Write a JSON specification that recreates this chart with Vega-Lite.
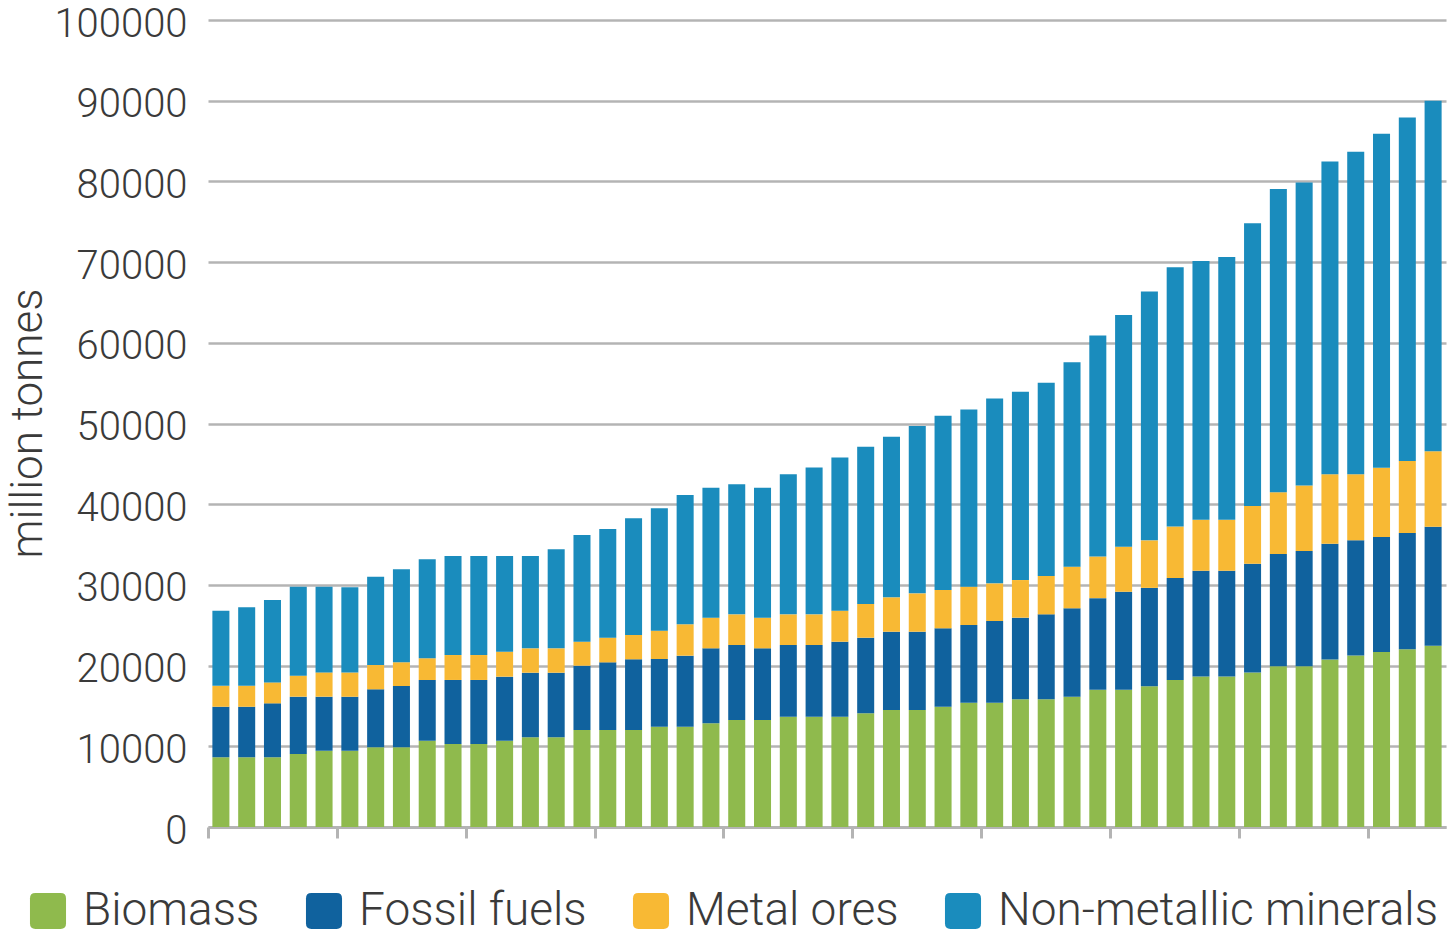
{
  "$schema": "https://vega.github.io/schema/vega-lite/v6.json",
  "width": 1238,
  "height": 807,
  "autosize": {"type": "none"},
  "padding": {"left": 208, "top": 20, "right": 3, "bottom": 103},
  "background": "white",
  "config": {"view": {"stroke": null}, "font": "Roboto"},
  "data": {
    "values": [
      {"year": 1970, "type": "Biomass", "value": 8630}, {"year": 1970, "type": "Fossil fuels", "value": 6270}, {"year": 1970, "type": "Metal ores", "value": 2600}, {"year": 1970, "type": "Non-metallic minerals", "value": 9300},
      {"year": 1971, "type": "Biomass", "value": 8630}, {"year": 1971, "type": "Fossil fuels", "value": 6270}, {"year": 1971, "type": "Metal ores", "value": 2600}, {"year": 1971, "type": "Non-metallic minerals", "value": 9720},
      {"year": 1972, "type": "Biomass", "value": 8630}, {"year": 1972, "type": "Fossil fuels", "value": 6690}, {"year": 1972, "type": "Metal ores", "value": 2600}, {"year": 1972, "type": "Non-metallic minerals", "value": 10200},
      {"year": 1973, "type": "Biomass", "value": 9050}, {"year": 1973, "type": "Fossil fuels", "value": 7100}, {"year": 1973, "type": "Metal ores", "value": 2600}, {"year": 1973, "type": "Non-metallic minerals", "value": 11030},
      {"year": 1974, "type": "Biomass", "value": 9450}, {"year": 1974, "type": "Fossil fuels", "value": 6700}, {"year": 1974, "type": "Metal ores", "value": 3010}, {"year": 1974, "type": "Non-metallic minerals", "value": 10610},
      {"year": 1975, "type": "Biomass", "value": 9450}, {"year": 1975, "type": "Fossil fuels", "value": 6700}, {"year": 1975, "type": "Metal ores", "value": 3010}, {"year": 1975, "type": "Non-metallic minerals", "value": 10540},
      {"year": 1976, "type": "Biomass", "value": 9870}, {"year": 1976, "type": "Fossil fuels", "value": 7190}, {"year": 1976, "type": "Metal ores", "value": 3010}, {"year": 1976, "type": "Non-metallic minerals", "value": 10950},
      {"year": 1977, "type": "Biomass", "value": 9870}, {"year": 1977, "type": "Fossil fuels", "value": 7600}, {"year": 1977, "type": "Metal ores", "value": 2930}, {"year": 1977, "type": "Non-metallic minerals", "value": 11530},
      {"year": 1978, "type": "Biomass", "value": 10700}, {"year": 1978, "type": "Fossil fuels", "value": 7520}, {"year": 1978, "type": "Metal ores", "value": 2690}, {"year": 1978, "type": "Non-metallic minerals", "value": 12270},
      {"year": 1979, "type": "Biomass", "value": 10290}, {"year": 1979, "type": "Fossil fuels", "value": 7930}, {"year": 1979, "type": "Metal ores", "value": 3090}, {"year": 1979, "type": "Non-metallic minerals", "value": 12270},
      {"year": 1980, "type": "Biomass", "value": 10290}, {"year": 1980, "type": "Fossil fuels", "value": 7930}, {"year": 1980, "type": "Metal ores", "value": 3090}, {"year": 1980, "type": "Non-metallic minerals", "value": 12270},
      {"year": 1981, "type": "Biomass", "value": 10700}, {"year": 1981, "type": "Fossil fuels", "value": 7930}, {"year": 1981, "type": "Metal ores", "value": 3090}, {"year": 1981, "type": "Non-metallic minerals", "value": 11860},
      {"year": 1982, "type": "Biomass", "value": 11110}, {"year": 1982, "type": "Fossil fuels", "value": 8010}, {"year": 1982, "type": "Metal ores", "value": 3020}, {"year": 1982, "type": "Non-metallic minerals", "value": 11440},
      {"year": 1983, "type": "Biomass", "value": 11110}, {"year": 1983, "type": "Fossil fuels", "value": 8010}, {"year": 1983, "type": "Metal ores", "value": 3020}, {"year": 1983, "type": "Non-metallic minerals", "value": 12270},
      {"year": 1984, "type": "Biomass", "value": 12020}, {"year": 1984, "type": "Fossil fuels", "value": 7970}, {"year": 1984, "type": "Metal ores", "value": 2970}, {"year": 1984, "type": "Non-metallic minerals", "value": 13220},
      {"year": 1985, "type": "Biomass", "value": 12020}, {"year": 1985, "type": "Fossil fuels", "value": 8380}, {"year": 1985, "type": "Metal ores", "value": 3060}, {"year": 1985, "type": "Non-metallic minerals", "value": 13460},
      {"year": 1986, "type": "Biomass", "value": 12020}, {"year": 1986, "type": "Fossil fuels", "value": 8760}, {"year": 1986, "type": "Metal ores", "value": 3010}, {"year": 1986, "type": "Non-metallic minerals", "value": 14460},
      {"year": 1987, "type": "Biomass", "value": 12430}, {"year": 1987, "type": "Fossil fuels", "value": 8390}, {"year": 1987, "type": "Metal ores", "value": 3510}, {"year": 1987, "type": "Non-metallic minerals", "value": 15160},
      {"year": 1988, "type": "Biomass", "value": 12430}, {"year": 1988, "type": "Fossil fuels", "value": 8800}, {"year": 1988, "type": "Metal ores", "value": 3890}, {"year": 1988, "type": "Non-metallic minerals", "value": 16020},
      {"year": 1989, "type": "Biomass", "value": 12850}, {"year": 1989, "type": "Fossil fuels", "value": 9290}, {"year": 1989, "type": "Metal ores", "value": 3800}, {"year": 1989, "type": "Non-metallic minerals", "value": 16110},
      {"year": 1990, "type": "Biomass", "value": 13260}, {"year": 1990, "type": "Fossil fuels", "value": 9290}, {"year": 1990, "type": "Metal ores", "value": 3800}, {"year": 1990, "type": "Non-metallic minerals", "value": 16110},
      {"year": 1991, "type": "Biomass", "value": 13260}, {"year": 1991, "type": "Fossil fuels", "value": 8880}, {"year": 1991, "type": "Metal ores", "value": 3800}, {"year": 1991, "type": "Non-metallic minerals", "value": 16110},
      {"year": 1992, "type": "Biomass", "value": 13670}, {"year": 1992, "type": "Fossil fuels", "value": 8880}, {"year": 1992, "type": "Metal ores", "value": 3800}, {"year": 1992, "type": "Non-metallic minerals", "value": 17350},
      {"year": 1993, "type": "Biomass", "value": 13670}, {"year": 1993, "type": "Fossil fuels", "value": 8880}, {"year": 1993, "type": "Metal ores", "value": 3800}, {"year": 1993, "type": "Non-metallic minerals", "value": 18210},
      {"year": 1994, "type": "Biomass", "value": 13670}, {"year": 1994, "type": "Fossil fuels", "value": 9290}, {"year": 1994, "type": "Metal ores", "value": 3850}, {"year": 1994, "type": "Non-metallic minerals", "value": 18990},
      {"year": 1995, "type": "Biomass", "value": 14090}, {"year": 1995, "type": "Fossil fuels", "value": 9370}, {"year": 1995, "type": "Metal ores", "value": 4170}, {"year": 1995, "type": "Non-metallic minerals", "value": 19500},
      {"year": 1996, "type": "Biomass", "value": 14500}, {"year": 1996, "type": "Fossil fuels", "value": 9700}, {"year": 1996, "type": "Metal ores", "value": 4260}, {"year": 1996, "type": "Non-metallic minerals", "value": 19910},
      {"year": 1997, "type": "Biomass", "value": 14500}, {"year": 1997, "type": "Fossil fuels", "value": 9700}, {"year": 1997, "type": "Metal ores", "value": 4750}, {"year": 1997, "type": "Non-metallic minerals", "value": 20740},
      {"year": 1998, "type": "Biomass", "value": 14910}, {"year": 1998, "type": "Fossil fuels", "value": 9710}, {"year": 1998, "type": "Metal ores", "value": 4750}, {"year": 1998, "type": "Non-metallic minerals", "value": 21600},
      {"year": 1999, "type": "Biomass", "value": 15410}, {"year": 1999, "type": "Fossil fuels", "value": 9620}, {"year": 1999, "type": "Metal ores", "value": 4750}, {"year": 1999, "type": "Non-metallic minerals", "value": 21970},
      {"year": 2000, "type": "Biomass", "value": 15410}, {"year": 2000, "type": "Fossil fuels", "value": 10120}, {"year": 2000, "type": "Metal ores", "value": 4660}, {"year": 2000, "type": "Non-metallic minerals", "value": 22920},
      {"year": 2001, "type": "Biomass", "value": 15820}, {"year": 2001, "type": "Fossil fuels", "value": 10120}, {"year": 2001, "type": "Metal ores", "value": 4660}, {"year": 2001, "type": "Non-metallic minerals", "value": 23340},
      {"year": 2002, "type": "Biomass", "value": 15820}, {"year": 2002, "type": "Fossil fuels", "value": 10530}, {"year": 2002, "type": "Metal ores", "value": 4750}, {"year": 2002, "type": "Non-metallic minerals", "value": 23950},
      {"year": 2003, "type": "Biomass", "value": 16150}, {"year": 2003, "type": "Fossil fuels", "value": 10950}, {"year": 2003, "type": "Metal ores", "value": 5160}, {"year": 2003, "type": "Non-metallic minerals", "value": 25340},
      {"year": 2004, "type": "Biomass", "value": 17000}, {"year": 2004, "type": "Fossil fuels", "value": 11360}, {"year": 2004, "type": "Metal ores", "value": 5160}, {"year": 2004, "type": "Non-metallic minerals", "value": 27380},
      {"year": 2005, "type": "Biomass", "value": 17000}, {"year": 2005, "type": "Fossil fuels", "value": 12150}, {"year": 2005, "type": "Metal ores", "value": 5580}, {"year": 2005, "type": "Non-metallic minerals", "value": 28720},
      {"year": 2006, "type": "Biomass", "value": 17430}, {"year": 2006, "type": "Fossil fuels", "value": 12200}, {"year": 2006, "type": "Metal ores", "value": 5890}, {"year": 2006, "type": "Non-metallic minerals", "value": 30850},
      {"year": 2007, "type": "Biomass", "value": 18220}, {"year": 2007, "type": "Fossil fuels", "value": 12630}, {"year": 2007, "type": "Metal ores", "value": 6380}, {"year": 2007, "type": "Non-metallic minerals", "value": 32120},
      {"year": 2008, "type": "Biomass", "value": 18640}, {"year": 2008, "type": "Fossil fuels", "value": 13120}, {"year": 2008, "type": "Metal ores", "value": 6310}, {"year": 2008, "type": "Non-metallic minerals", "value": 32060},
      {"year": 2009, "type": "Biomass", "value": 18640}, {"year": 2009, "type": "Fossil fuels", "value": 13120}, {"year": 2009, "type": "Metal ores", "value": 6310}, {"year": 2009, "type": "Non-metallic minerals", "value": 32550},
      {"year": 2010, "type": "Biomass", "value": 19130}, {"year": 2010, "type": "Fossil fuels", "value": 13480}, {"year": 2010, "type": "Metal ores", "value": 7170}, {"year": 2010, "type": "Non-metallic minerals", "value": 35030},
      {"year": 2011, "type": "Biomass", "value": 19920}, {"year": 2011, "type": "Fossil fuels", "value": 13900}, {"year": 2011, "type": "Metal ores", "value": 7650}, {"year": 2011, "type": "Non-metallic minerals", "value": 37590},
      {"year": 2012, "type": "Biomass", "value": 19920}, {"year": 2012, "type": "Fossil fuels", "value": 14270}, {"year": 2012, "type": "Metal ores", "value": 8140}, {"year": 2012, "type": "Non-metallic minerals", "value": 37520},
      {"year": 2013, "type": "Biomass", "value": 20770}, {"year": 2013, "type": "Fossil fuels", "value": 14330}, {"year": 2013, "type": "Metal ores", "value": 8620}, {"year": 2013, "type": "Non-metallic minerals", "value": 38740},
      {"year": 2014, "type": "Biomass", "value": 21250}, {"year": 2014, "type": "Fossil fuels", "value": 14270}, {"year": 2014, "type": "Metal ores", "value": 8200}, {"year": 2014, "type": "Non-metallic minerals", "value": 39950},
      {"year": 2015, "type": "Biomass", "value": 21680}, {"year": 2015, "type": "Fossil fuels", "value": 14270}, {"year": 2015, "type": "Metal ores", "value": 8560}, {"year": 2015, "type": "Non-metallic minerals", "value": 41410},
      {"year": 2016, "type": "Biomass", "value": 22040}, {"year": 2016, "type": "Fossil fuels", "value": 14390}, {"year": 2016, "type": "Metal ores", "value": 8930}, {"year": 2016, "type": "Non-metallic minerals", "value": 42560},
      {"year": 2017, "type": "Biomass", "value": 22470}, {"year": 2017, "type": "Fossil fuels", "value": 14750}, {"year": 2017, "type": "Metal ores", "value": 9350}, {"year": 2017, "type": "Non-metallic minerals", "value": 43420}
    ]
  },
  "mark": {"type": "bar"},
  "encoding": {
    "x": {
      "field": "year",
      "type": "ordinal",
      "scale": {"paddingInner": 0.34, "paddingOuter": 0.17},
      "axis": {
        "title": null,
        "labels": false,
        "values": [1970, 1975, 1980, 1985, 1990, 1995, 2000, 2005, 2010, 2015],
        "bandPosition": -0.25,
        "ticks": true,
        "tickSize": 11,
        "tickColor": "#b4b4b4",
        "tickWidth": 3,
        "domainColor": "#b4b4b4",
        "domainWidth": 3,
        "grid": false
      }
    },
    "y": {
      "field": "value",
      "type": "quantitative",
      "stack": "zero",
      "scale": {"domain": [0, 100000], "nice": false},
      "axis": {
        "title": "million tonnes",
        "values": [0, 10000, 20000, 30000, 40000, 50000, 60000, 70000, 80000, 90000, 100000],
        "format": "d",
        "domain": false,
        "ticks": false,
        "labelPadding": 21,
        "labelOffset": 4,
        "labelFontSize": 40,
        "labelFont": "Roboto",
        "labelFontWeight": 300,
        "labelColor": "#3a3a3a",
        "gridColor": "#b4b4b4",
        "gridWidth": 2.5,
        "titleFont": "Roboto",
        "titleFontSize": 44,
        "titleFontWeight": 300,
        "titleColor": "#3a3a3a",
        "titleX": -180,
        "titleY": 403,
        "titleAngle": -90,
        "titleAlign": "center",
        "titleBaseline": "middle"
      }
    },
    "order": {"field": "type", "sort": "ascending"},
    "color": {
      "field": "type",
      "type": "nominal",
      "scale": {
        "domain": ["Biomass", "Fossil fuels", "Metal ores", "Non-metallic minerals"],
        "range": ["#8fba4d", "#10629e", "#f8b934", "#1a8cbd"]
      },
      "legend": {
        "title": null,
        "orient": "none",
        "legendX": -183,
        "legendY": 868,
        "direction": "horizontal",
        "symbolType": "M-0.7,-1H0.7Q1,-1 1,-0.7V0.7Q1,1 0.7,1H-0.7Q-1,1 -1,0.7V-0.7Q-1,-1 -0.7,-1Z",
        "symbolSize": 1300,
        "symbolStrokeWidth": 0,
        "symbolOpacity": 1,
        "labelFont": "Roboto",
        "labelFontSize": 46,
        "labelFontWeight": 300,
        "labelColor": "#3a3a3a",
        "labelOffset": 12,
        "labelLimit": 800,
        "columnPadding": 41
      }
    }
  }
}
